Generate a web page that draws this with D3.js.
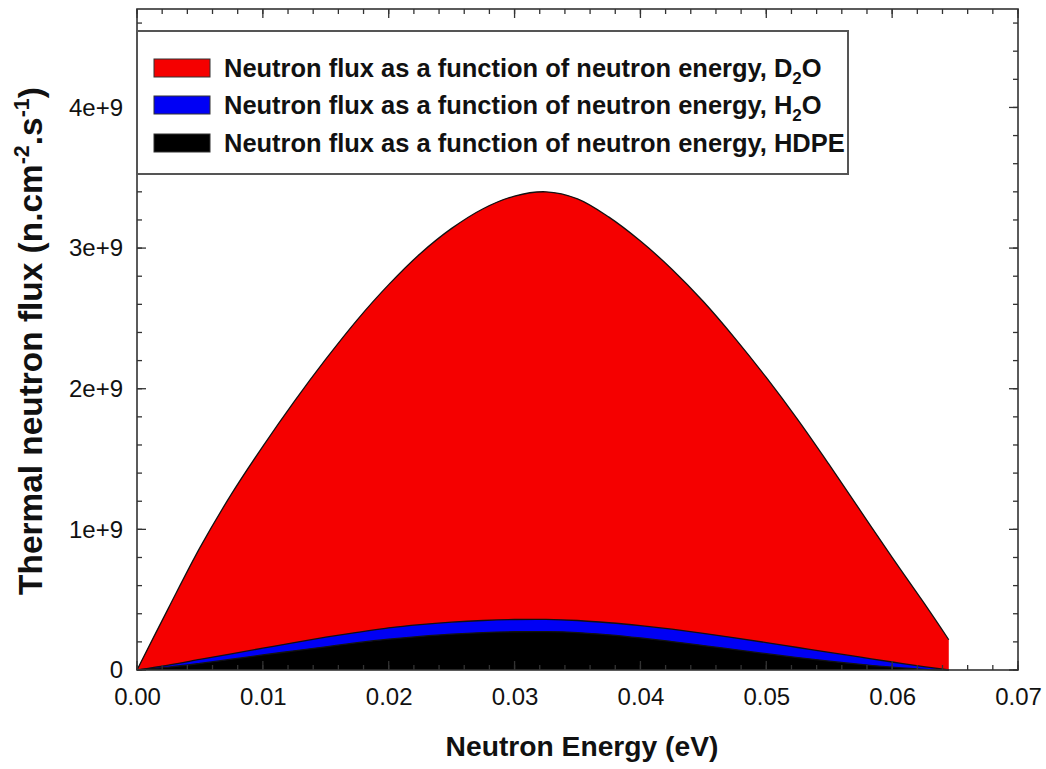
<!DOCTYPE html>
<html>
<head>
<meta charset="utf-8">
<script src="https://cdn.jsdelivr.net/npm/d3@7/dist/d3.min.js"></script>
<style>
html,body{margin:0;padding:0;background:#fff;}
svg{display:block;font-family:"Liberation Sans",Arial,sans-serif;}
</style>
</head>
<body>
<svg id="chart" width="1046" height="769"></svg>
<script>
// ---- data ----
const energy = [0,0.0025,0.005,0.0075,0.01,0.0125,0.015,0.0175,0.02,0.0225,0.025,0.0275,0.03,0.0325,0.035,0.0375,0.04,0.0425,0.045,0.0475,0.05,0.0525,0.055,0.0575,0.06,0.0625,0.0645];
const fluxD2O = [0,0.44e9,0.87e9,1.25e9,1.59e9,1.91e9,2.21e9,2.49e9,2.74e9,2.96e9,3.14e9,3.28e9,3.37e9,3.40e9,3.35e9,3.22e9,3.05e9,2.85e9,2.62e9,2.36e9,2.08e9,1.78e9,1.46e9,1.13e9,0.80e9,0.48e9,0.215e9];
const fluxH2O = [0,0.035e9,0.075e9,0.115e9,0.155e9,0.195e9,0.233e9,0.268e9,0.300e9,0.323e9,0.340e9,0.352e9,0.359e9,0.360e9,0.352e9,0.336e9,0.315e9,0.290e9,0.261e9,0.229e9,0.195e9,0.160e9,0.125e9,0.091e9,0.057e9,0.024e9,0];
const fluxHDPE = [0,0.02e9,0.047e9,0.077e9,0.107e9,0.136e9,0.165e9,0.194e9,0.219e9,0.239e9,0.255e9,0.266e9,0.272e9,0.273e9,0.266e9,0.250e9,0.228e9,0.202e9,0.174e9,0.145e9,0.116e9,0.088e9,0.063e9,0.040e9,0.020e9,0.005e9,0];
const seriesNames = ["D2O","H2O","HDPE"];
const seriesColors = ["#f50000","#0000f5","#000000"];
const xTicks = [0,0.01,0.02,0.03,0.04,0.05,0.06,0.07];
const yTicks = [0,1e9,2e9,3e9,4e9];
const yTickLabels = ["0","1e+9","2e+9","3e+9","4e+9"];

// ---- layout ----
const svg = d3.select("#chart");
const L = 137, R = 1018, T = 9, B = 670;
const x = d3.scaleLinear().domain([0,0.07]).range([L,R]);
const y = d3.scaleLinear().domain([0,4.7e9]).range([B,T]);

const series = [fluxD2O, fluxH2O, fluxHDPE];
const crv = d3.curveCatmullRom.alpha(0.5);
const area = vals => d3.area().x((d,i)=>x(energy[i])).y0(y(0)).y1((d,i)=>y(vals[i])).curve(crv)(vals);
const line = vals => d3.line().x((d,i)=>x(energy[i])).y((d,i)=>y(vals[i])).curve(crv)(vals);

series.forEach((vals,k)=>{
  svg.append("path").attr("d",area(vals)).attr("fill",seriesColors[k]).attr("stroke","none");
  svg.append("path").attr("d",line(vals)).attr("fill","none").attr("stroke","#111").attr("stroke-width",1.3);
});

// ---- axes (ticks inward, mirrored) ----
const axisColor = "#333";
const gAx = svg.append("g");
const xMinor = d3.range(0,0.0701,0.002);
const yMinor = d3.range(0,4.701e9,0.2e9);
function tick(x1,y1,x2,y2){gAx.append("line").attr("x1",x1).attr("y1",y1).attr("x2",x2).attr("y2",y2).attr("stroke",axisColor).attr("stroke-width",1.3);}
xMinor.forEach(v=>{const px=x(v); tick(px,B,px,B-5); tick(px,T,px,T+5);});
yMinor.forEach(v=>{const py=y(v); tick(L,py,L+5,py); tick(R,py,R-5,py);});
xTicks.forEach(v=>{const px=x(v); tick(px,B,px,B-9); tick(px,T,px,T+9);});
yTicks.forEach(v=>{const py=y(v); tick(L,py,L+9,py); tick(R,py,R-9,py);});
gAx.append("rect").attr("x",L).attr("y",T).attr("width",R-L).attr("height",B-T).attr("fill","none").attr("stroke",axisColor).attr("stroke-width",1.6);

// tick labels via d3 axis
const xAxis = d3.axisBottom(x).tickValues(xTicks).tickFormat(d3.format(".2f")).tickSize(0).tickPadding(18);
const gx = svg.append("g").attr("transform",`translate(0,${B})`).call(xAxis);
gx.select(".domain").remove();
gx.selectAll("text").attr("font-size",24).attr("fill","#111").attr("font-family","Liberation Sans, Arial, sans-serif");
const yAxis = d3.axisLeft(y).tickValues(yTicks).tickFormat((d,i)=>yTickLabels[i]).tickSize(0).tickPadding(14);
const gy = svg.append("g").attr("transform",`translate(${L},0)`).call(yAxis);
gy.select(".domain").remove();
gy.selectAll("text").attr("font-size",24).attr("fill","#111").attr("font-family","Liberation Sans, Arial, sans-serif");

// fit a text element to a target length by scaling its font sizes
function fit(sel, target){
  const len = sel.node().getComputedTextLength();
  const s = target/len;
  sel.attr("font-size", +sel.attr("font-size")*s);
  sel.selectAll("tspan").each(function(){
    const t = d3.select(this);
    if(t.attr("font-size")) t.attr("font-size", +t.attr("font-size")*s);
    if(t.attr("dy")) t.attr("dy", +t.attr("dy")*s);
  });
}

// axis titles
const xt = svg.append("text").attr("x",582).attr("y",756).attr("text-anchor","middle")
  .attr("font-size",28).attr("font-weight","bold").attr("fill","#111").text("Neutron Energy (eV)");
fit(xt, 273);
const yt = svg.append("text").attr("transform","translate(42,341) rotate(-90)").attr("text-anchor","middle")
  .attr("font-size",28).attr("font-weight","bold").attr("fill","#111");
yt.append("tspan").text("Thermal neutron flux (n.cm");
yt.append("tspan").attr("dy",-11).attr("font-size",18).text("-2");
yt.append("tspan").attr("dy",11).text(".s");
yt.append("tspan").attr("dy",-11).attr("font-size",18).text("-1");
yt.append("tspan").attr("dy",11).text(")");
fit(yt, 508);

// legend
const lg = svg.append("g");
lg.append("rect").attr("x",L).attr("y",31).attr("width",848-L).attr("height",143).attr("fill","#fff").attr("stroke","#555").attr("stroke-width",2);
const legendY = [68,105,143];
let legendTexts = [];
seriesNames.forEach((name,k)=>{
  lg.append("rect").attr("x",154).attr("y",legendY[k]-9).attr("width",56).attr("height",18)
    .attr("fill",seriesColors[k]).attr("stroke","#333").attr("stroke-width",1);
  const t = lg.append("text").attr("x",224).attr("y",legendY[k]+9).attr("font-size",24).attr("font-weight","bold").attr("fill","#111");
  if(name==="HDPE"){ t.append("tspan").text("Neutron flux as a function of neutron energy, HDPE"); }
  else {
    t.append("tspan").text("Neutron flux as a function of neutron energy, "+name[0]);
    t.append("tspan").attr("dy",7).attr("font-size",16).text("2");
    t.append("tspan").attr("dy",-7).text("O");
  }
  legendTexts.push(t);
});
// scale all legend rows by the HDPE row fit
const hd = legendTexts[2];
const scale = 621/hd.node().getComputedTextLength();
legendTexts.forEach(t=>{
  t.attr("font-size", 24*scale);
  t.selectAll("tspan").each(function(){
    const s = d3.select(this);
    if(s.attr("font-size")) s.attr("font-size", +s.attr("font-size")*scale);
  });
});
</script>
</body>
</html>
